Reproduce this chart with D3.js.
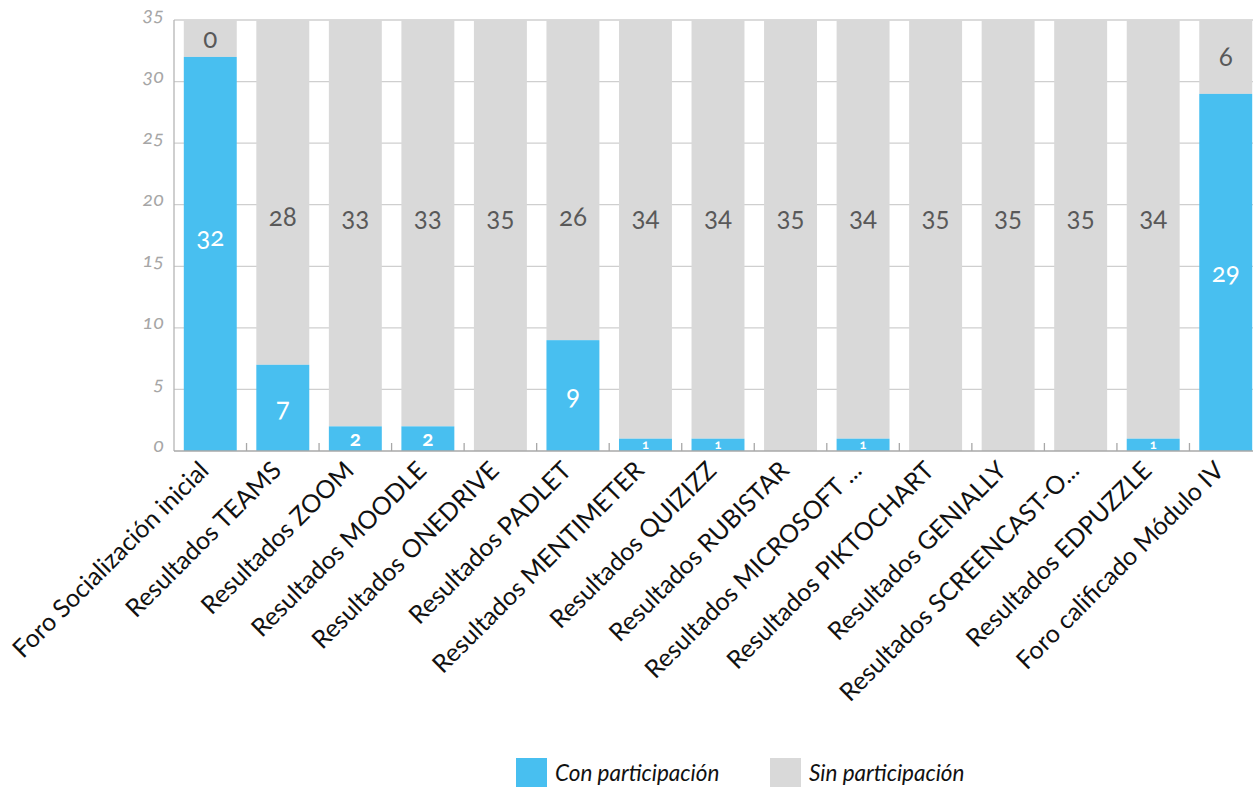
<!DOCTYPE html>
<html>
<head>
<meta charset="utf-8">
<script src="https://cdn.jsdelivr.net/npm/d3@7"></script>
<style>
  body { margin: 0; background: #fff; }
  svg { font-family: Lato, "Open Sans", sans-serif; font-feature-settings: "onum"; }
</style>
</head>
<body>
<svg class="chart"></svg>
<script>
var categories = ["Foro Socialización inicial", "Resultados TEAMS", "Resultados ZOOM", "Resultados MOODLE",
  "Resultados ONEDRIVE", "Resultados PADLET", "Resultados MENTIMETER", "Resultados QUIZIZZ",
  "Resultados RUBISTAR", "Resultados MICROSOFT ...", "Resultados PIKTOCHART", "Resultados GENIALLY",
  "Resultados SCREENCAST-O...", "Resultados EDPUZZLE", "Foro calificado Módulo IV"];
var conParticipacion = [32, 7, 2, 2, 0, 9, 1, 1, 0, 1, 0, 0, 0, 1, 29];
var sinParticipacion = [0, 28, 33, 33, 35, 26, 34, 34, 35, 34, 35, 35, 35, 34, 6];
var yTicks = [0, 5, 10, 15, 20, 25, 30, 35];
var seriesNames = ["Con participación", "Sin participación"];

var width = 1253, height = 787;
var blue = "#48bff0", grey = "#d9d9d9";

var svg = d3.select(".chart").attr("width", width).attr("height", height);

var x = d3.scaleBand().domain(categories).range([174, 1262]).paddingInner(0.27).paddingOuter(0.135);
var yMax = d3.max(conParticipacion, function(d, i) { return d + sinParticipacion[i]; });
var y = d3.scaleLinear().domain([0, yMax]).range([451, 20]);

// gridlines
svg.append("g").selectAll("line").data(yTicks.slice(1)).enter().append("line")
    .attr("x1", 174).attr("x2", width)
    .attr("y1", function(d) { return y(d); }).attr("y2", function(d) { return y(d); })
    .attr("stroke", "#cfcfcf").attr("stroke-width", 1.3);

var data = categories.map(function(c, i) { return { cat: c, con: conParticipacion[i], sin: sinParticipacion[i] }; });

var bar = svg.append("g").selectAll("g").data(data).enter().append("g");

// grey part goes up to the top of the scale
bar.append("rect")
    .attr("x", function(d) { return x(d.cat); })
    .attr("width", x.bandwidth())
    .attr("y", y(yMax))
    .attr("height", function(d) { return y(d.con) - y(yMax); })
    .attr("fill", grey);

bar.append("rect")
    .attr("x", function(d) { return x(d.cat); })
    .attr("width", x.bandwidth())
    .attr("y", function(d) { return y(d.con); })
    .attr("height", function(d) { return y(0) - y(d.con); })
    .attr("fill", blue);

// axes
svg.append("line").attr("x1", 174).attr("x2", 174).attr("y1", y(yMax)).attr("y2", y(0))
    .attr("stroke", "#b5b5b5").attr("stroke-width", 1.3);
svg.append("line").attr("x1", 174).attr("x2", width).attr("y1", y(0)).attr("y2", y(0))
    .attr("stroke", "#a8a8a8").attr("stroke-width", 1.3);

var step = x.step();
svg.append("g").selectAll("line").data(d3.range(1, categories.length)).enter().append("line")
    .attr("x1", function(k) { return 174 + k * step; }).attr("x2", function(k) { return 174 + k * step; })
    .attr("y1", y(0)).attr("y2", y(0) - 8)
    .attr("stroke", "#a8a8a8").attr("stroke-width", 1.3);

svg.append("g").selectAll("text").data(yTicks).enter().append("text")
    .attr("x", 164).attr("y", function(d) { return y(d); })
    .attr("dy", "0.05em")
    .attr("text-anchor", "end")
    .attr("font-style", "italic")
    .attr("font-size", 20)
    .attr("fill", "#a6a6a6")
    .text(function(d) { return d; });

// category labels
svg.append("g").selectAll("text").data(categories).enter().append("text")
    .attr("transform", function(d) { return "translate(" + (x(d) + x.bandwidth() / 2) + ",472) rotate(-45)"; })
    .attr("text-anchor", "end")
    .attr("font-size", 25)
    .attr("fill", "#111")
    .text(function(d) { return d; });

// value labels
bar.filter(function(d) { return d.con > 0; }).append("text")
    .attr("x", function(d) { return x(d.cat) + x.bandwidth() / 2; })
    .attr("y", function(d) { return y(d.con > 30 ? d.con / 2 + 1.4 : d.con / 2); })
    .attr("dy", "0.35em")
    .attr("text-anchor", "middle")
    .attr("fill", "#fff")
    .attr("font-weight", function(d) { return d.con < 5 ? "bold" : "normal"; })
    .attr("font-size", function(d) { return Math.min(26, Math.max(13, (y(0) - y(d.con)) * 0.85)); })
    .text(function(d) { return d.con; });

bar.append("text")
    .attr("x", function(d) { return x(d.cat) + x.bandwidth() / 2; })
    .attr("y", function(d) {
      var lo = d.con, hi = yMax;
      return y(lo <= 19 && hi >= 19 ? 19 : (lo + hi) / 2);
    })
    .attr("dy", "0.35em")
    .attr("text-anchor", "middle")
    .attr("fill", "#595959")
    .attr("font-size", 26)
    .text(function(d) { return d.sin; });

// legend
var legend = svg.append("g").selectAll("g").data(seriesNames).enter().append("g")
    .attr("transform", function(d, i) { return "translate(" + (516 + i * 254) + ",758)"; });
legend.append("rect").attr("width", 31).attr("height", 29)
    .attr("fill", function(d, i) { return i === 0 ? blue : grey; });
legend.append("text").attr("x", 39).attr("y", 23)
    .attr("font-size", 22.5).attr("font-style", "italic").attr("fill", "#111")
    .text(function(d) { return d; });
</script>
</body>
</html>
